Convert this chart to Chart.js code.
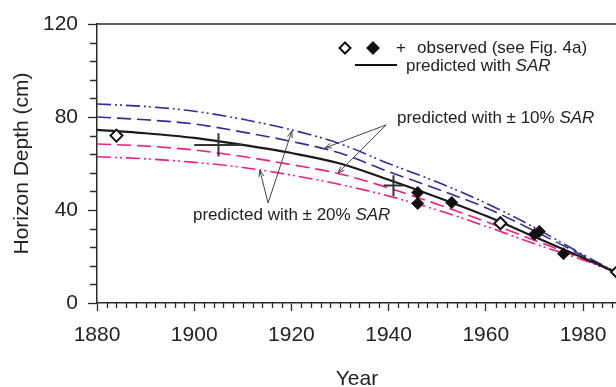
<!DOCTYPE html>
<html>
<head>
<meta charset="utf-8">
<script src="https://cdn.jsdelivr.net/npm/chart.js@4.4.0/dist/chart.umd.min.js"></script>
<style>
html, body { margin: 0; padding: 0; background: #fff; overflow: hidden; }
#wrap { width: 616px; height: 387px; overflow: hidden; }
</style>
</head>
<body>
<div id="wrap"><canvas id="depthChart" width="640" height="387"></canvas></div>
<script>
"use strict";

// Predicted curves (depth in cm)
var curveYears = [1880, 1890, 1900, 1910, 1920, 1930, 1940, 1950, 1960, 1970, 1980, 1987];
var predictedSar = [74.5, 73, 71, 68, 64.5, 60, 53, 45.5, 37.5, 28.5, 19.5, 13];
var predictedPlus10 = [80, 78.8, 77, 73.5, 69.5, 64.5, 56.5, 49, 41, 31, 20.3, 13];
var predictedPlus20 = [85.6, 84.5, 82.5, 79, 74.5, 68.5, 60, 52, 43, 32.5, 20.8, 13];
var predictedMinus10 = [68.4, 67.5, 65.8, 63, 59.5, 55.5, 49.5, 42.5, 35, 27, 19, 13];
var predictedMinus20 = [62.9, 62, 60.5, 58.3, 55, 51, 46, 40, 33, 25.5, 18.5, 13];

// Observed values
var openYears = [1884, 1963, 1987];
var openDepths = [72, 34.3, 13.3];
var filledYears = [1946, 1946, 1953, 1970, 1971, 1976];
var filledDepths = [47.5, 42.8, 43.2, 29.5, 30.8, 21.2];
var crossYears = [1905, 1941];
var crossDepths = [68, 50.5];
var crossYearErr = [5, 2];
var crossDepthErr = [5, 4.5];

// Tick labels
var xTickValues = [1880, 1900, 1920, 1940, 1960, 1980];
var yTickValues = [0, 40, 80, 120];

var blue = "rgb(45, 45, 155)";
var pink = "rgb(240, 30, 130)";
var ink = "#2a2a2a";
var font = '"Liberation Sans", Arial, sans-serif';

function toPoints(xs, ys) {
    var pts = [];
    for (let i = 0; i < xs.length; i++) {
        pts.push({ x: xs[i], y: ys[i] });
    }
    return pts;
}

function curve(values, color, dash, width) {
    return {
        type: "line",
        data: toPoints(curveYears, values),
        borderColor: color,
        borderWidth: width,
        borderDash: dash,
        pointRadius: 0,
        cubicInterpolationMode: "monotone",
        fill: false
    };
}

var dashDotDot = [14, 4, 2, 3, 2, 4];

// Draws the frame, minor ticks, crosses, arrows and notes
var overlay = {
    id: "overlay",
    afterDraw: function (chart) {
        var ctx = chart.ctx;
        var xs = chart.scales.x;
        var ys = chart.scales.y;
        var area = chart.chartArea;

        ctx.save();
        ctx.strokeStyle = ink;
        ctx.lineWidth = 1.5;

        // Top frame line
        ctx.beginPath();
        ctx.moveTo(area.left, area.top);
        ctx.lineTo(area.right, area.top);
        ctx.stroke();

        // Minor ticks
        ctx.lineWidth = 1.3;
        ctx.beginPath();
        for (let yr = 1882; yr < 1990; yr += 2) {
            if (yr % 20 === 0) continue;
            var px = Math.round(xs.getPixelForValue(yr)) + 0.5;
            ctx.moveTo(px, area.bottom);
            ctx.lineTo(px, area.bottom + 5);
        }
        for (let v = 8; v < 120; v += 8) {
            if (v % 40 === 0) continue;
            var py = Math.round(ys.getPixelForValue(v)) + 0.5;
            ctx.moveTo(area.left - 7, py);
            ctx.lineTo(area.left, py);
        }
        ctx.stroke();

        // Error crosses
        ctx.lineWidth = 2;
        ctx.strokeStyle = "#333";
        ctx.beginPath();
        for (let i = 0; i < crossYears.length; i++) {
            var cx = xs.getPixelForValue(crossYears[i]);
            var cy = ys.getPixelForValue(crossDepths[i]);
            ctx.moveTo(xs.getPixelForValue(crossYears[i] - crossYearErr[i]), cy);
            ctx.lineTo(xs.getPixelForValue(crossYears[i] + crossYearErr[i]), cy);
            ctx.moveTo(cx, ys.getPixelForValue(crossDepths[i] - crossDepthErr[i]));
            ctx.lineTo(cx, ys.getPixelForValue(crossDepths[i] + crossDepthErr[i]));
        }
        ctx.stroke();

        // Arrows
        function arrow(x0, y0, x1, y1) {
            var ax = xs.getPixelForValue(x0), ay = ys.getPixelForValue(y0);
            var bx = xs.getPixelForValue(x1), by = ys.getPixelForValue(y1);
            var ang = Math.atan2(by - ay, bx - ax);
            ctx.beginPath();
            ctx.moveTo(ax, ay);
            ctx.lineTo(bx, by);
            ctx.moveTo(bx - 7 * Math.cos(ang - 0.35), by - 7 * Math.sin(ang - 0.35));
            ctx.lineTo(bx, by);
            ctx.lineTo(bx - 7 * Math.cos(ang + 0.35), by - 7 * Math.sin(ang + 0.35));
            ctx.stroke();
        }
        ctx.strokeStyle = "#444";
        ctx.lineWidth = 1;
        arrow(1939.5, 76.6, 1926.9, 66.7);
        arrow(1939.5, 76.6, 1929.6, 55.9);
        arrow(1915.2, 43, 1920.1, 74);
        arrow(1915.2, 43, 1913.5, 57.2);

        // Notes
        ctx.fillStyle = "#222";
        ctx.textBaseline = "middle";
        function note(x, y, plain, italic) {
            ctx.font = "17px " + font;
            ctx.fillText(plain, x, y);
            if (italic) {
                var w = ctx.measureText(plain).width;
                ctx.font = "italic 17px " + font;
                ctx.fillText(italic, x + w, y);
            }
        }
        note(397, 118, "predicted with \u00B1 10% ", "SAR");
        note(193, 215, "predicted with \u00B1 20% ", "SAR");

        // Legend
        function diamond(x, y, r, filled) {
            ctx.beginPath();
            ctx.moveTo(x, y - r);
            ctx.lineTo(x + r, y);
            ctx.lineTo(x, y + r);
            ctx.lineTo(x - r, y);
            ctx.closePath();
            ctx.fillStyle = filled ? "#111" : "#fff";
            ctx.fill();
            ctx.lineWidth = 2;
            ctx.strokeStyle = "#111";
            ctx.stroke();
        }
        diamond(345, 48, 5.5, false);
        diamond(373, 48, 5.5, true);
        ctx.fillStyle = "#222";
        note(396, 48, "+", null);
        note(417, 48, "observed (see Fig. 4a)", null);
        ctx.strokeStyle = "#111";
        ctx.lineWidth = 2;
        ctx.beginPath();
        ctx.moveTo(355, 65);
        ctx.lineTo(397, 65);
        ctx.stroke();
        note(406, 66, "predicted with ", "SAR");

        // X axis title
        ctx.font = "21px " + font;
        ctx.textAlign = "center";
        ctx.textBaseline = "alphabetic";
        ctx.fillText("Year", 357, 385);

        ctx.restore();
    }
};

var config = {
    data: {
        datasets: [
            {
                type: "scatter",
                data: toPoints(openYears, openDepths),
                pointStyle: "rectRot",
                pointRadius: 6,
                pointBorderWidth: 2,
                pointBackgroundColor: "#fff",
                pointBorderColor: "#111"
            },
            {
                type: "scatter",
                data: toPoints(filledYears, filledDepths),
                pointStyle: "rectRot",
                pointRadius: 6,
                pointBorderWidth: 1,
                pointBackgroundColor: "#111",
                pointBorderColor: "#111"
            },
            curve(predictedSar, "#1a1a1a", [], 2.2),
            curve(predictedPlus10, blue, [14, 6], 1.6),
            curve(predictedPlus20, blue, dashDotDot, 1.6),
            curve(predictedMinus10, pink, [14, 6], 1.6),
            curve(predictedMinus20, pink, dashDotDot, 1.6)
        ]
    },
    options: {
        responsive: false,
        animation: false,
        events: [],
        layout: {
            padding: { left: 0, top: 24, right: 8.4, bottom: 0 }
        },
        plugins: {
            legend: { display: false },
            tooltip: { enabled: false }
        },
        scales: {
            x: {
                type: "linear",
                min: 1880,
                max: 1990,
                afterBuildTicks: function (scale) {
                    scale.ticks = xTickValues.map(function (v) { return { value: v }; });
                },
                afterFit: function (scale) {
                    scale.height = 84;
                },
                border: { display: true, color: ink, width: 1.5 },
                grid: { drawOnChartArea: false, tickLength: 8, tickColor: ink, tickWidth: 1.3 },
                ticks: {
                    color: "#222",
                    padding: 12,
                    maxRotation: 0,
                    font: { family: font, size: 21 },
                    callback: function (value) { return String(value); }
                }
            },
            y: {
                type: "linear",
                min: 0,
                max: 120,
                afterBuildTicks: function (scale) {
                    scale.ticks = yTickValues.map(function (v) { return { value: v }; });
                },
                afterFit: function (scale) {
                    scale.width = 97;
                },
                border: { display: true, color: ink, width: 1.5 },
                grid: { drawOnChartArea: false, tickLength: 9, tickColor: ink, tickWidth: 1.3 },
                ticks: {
                    color: "#222",
                    padding: 10,
                    font: { family: font, size: 21 },
                    callback: function (value) { return String(value); }
                },
                title: {
                    display: true,
                    text: "Horizon Depth (cm)",
                    color: "#222",
                    padding: { top: 10, bottom: 0 },
                    font: { family: font, size: 21 }
                }
            }
        }
    },
    plugins: [overlay]
};

window.onload = function () {
    var ctx = document.getElementById("depthChart").getContext("2d");
    new Chart(ctx, config);
};
</script>
</body>
</html>
